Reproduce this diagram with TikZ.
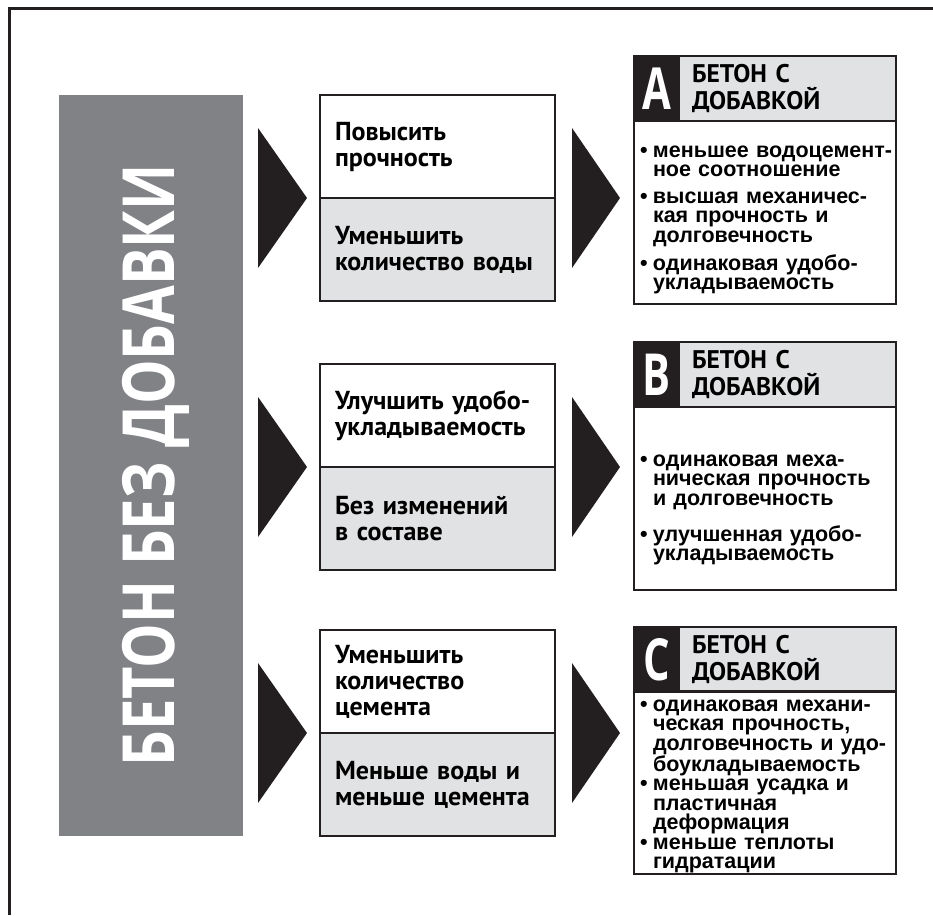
\documentclass[tikz,border=0pt]{standalone}
\usepackage{fontspec}
\setmainfont{Liberation Sans}
\newfontfamily\myriad{PT Sans}
\newfontfamily\wide{Open Sans}
\usetikzlibrary{positioning}

\definecolor{ink}{HTML}{231F20}
\definecolor{bargray}{HTML}{808285}
\definecolor{pale}{HTML}{E1E2E3}

% bullet with hanging indent
\newcommand{\punkt}{\par\hangindent=13pt\hangafter=1\noindent\makebox[13pt][l]{\textbullet}}

\begin{document}
\begin{tikzpicture}[x=1pt, y=-1pt,
	every node/.style={inner sep=0pt, outer sep=0pt},
	midbox/.style={draw=ink, line width=1.6pt, anchor=north west, minimum height=103pt, text width=205pt, inner xsep=15pt, align=left, font=\myriad\bfseries\fontsize{26}{26}\selectfont},
	letterbox/.style={draw=ink, fill=ink, line width=1.6pt, anchor=north west, minimum width=45pt, minimum height=65pt, text=white, font=\wide\bfseries\fontsize{58}{58}\selectfont},
	headbox/.style={draw=ink, fill=pale, line width=1.6pt, anchor=north west, minimum height=65pt, text width=191pt, inner xsep=13pt, align=left, font=\myriad\bfseries\fontsize{25.5}{27}\selectfont},
	bodybox/.style={draw=ink, line width=1.6pt, anchor=north west, minimum height=183pt, text width=250pt, inner xsep=6pt, align=left, font=\bfseries\fontsize{21.5}{19.5}\selectfont}]
	\useasboundingbox (0,0) rectangle (933,915);
	\draw[ink, line width=3pt] (933,9) -- (9,9) -- (9,915);

	\node[fill=bargray, rotate=90, minimum width=741pt, minimum height=184pt, text height=46pt, text depth=0pt, text=white, font=\wide\bfseries\fontsize{72}{72}\selectfont] (bar) at (151,465.5) {\scalebox{0.78}[1]{БЕТОН БЕЗ ДОБАВКИ}};

	% middle column
	\node[midbox] (up1) at (320,95) {Повысить\\прочность};
	\node[midbox, fill=pale] (low1) at (320,198) {Уменьшить\\количество воды};
	\node[midbox] (up2) at (320,364) {Улучшить удобо-\\укладываемость};
	\node[midbox, fill=pale] (low2) at (320,467) {Без изменений\\в составе};
	\node[midbox] (up3) at (320,630) {Уменьшить\\количество\\цемента};
	\node[midbox, fill=pale] (low3) at (320,733) {Меньше воды и\\меньше цемента};

	% arrows
	\foreach \y in {198,467,733} {
		\fill[ink] (258,\y-70) -- (307,\y) -- (258,\y+70) -- cycle;
		\fill[ink] (572,\y-70) -- (620,\y) -- (572,\y+70) -- cycle;
	}

	% right column
	\node[letterbox] (letA) at (634,56) {\scalebox{0.72}[1]{A}};
	\node[headbox] (headA) at (679,56) {БЕТОН С\\ДОБАВКОЙ};
	\node[bodybox] (bodyA) at (634,121) {\setlength{\parskip}{7pt}%
		\punkt меньшее~водоцемент\mbox{-}\newline ное соотношение
		\punkt высшая механичес-\newline кая прочность и\newline долговечность
		\punkt одинаковая удобо-\newline укладываемость\par};

	\node[letterbox] (letB) at (634,342) {\scalebox{0.72}[1]{B}};
	\node[headbox] (headB) at (679,342) {БЕТОН С\\ДОБАВКОЙ};
	\node[bodybox] (bodyB) at (634,407) {\setlength{\parskip}{15pt}%
		\punkt одинаковая меха-\newline ническая прочность\newline и долговечность
		\punkt улучшенная удобо-\newline укладываемость\par};

	\node[letterbox] (letC) at (634,627) {\scalebox{0.72}[1]{C}};
	\node[headbox] (headC) at (679,627) {БЕТОН С\\ДОБАВКОЙ};
	\node[bodybox] (bodyC) at (634,691) {\setlength{\parskip}{0pt}%
		\punkt одинаковая механи-\newline ческая прочность,\newline долговечность и~удо-\newline боукладываемость
		\punkt меньшая усадка и\newline пластичная\newline деформация
		\punkt меньше теплоты\newline гидратации\par};
\end{tikzpicture}
\end{document}
